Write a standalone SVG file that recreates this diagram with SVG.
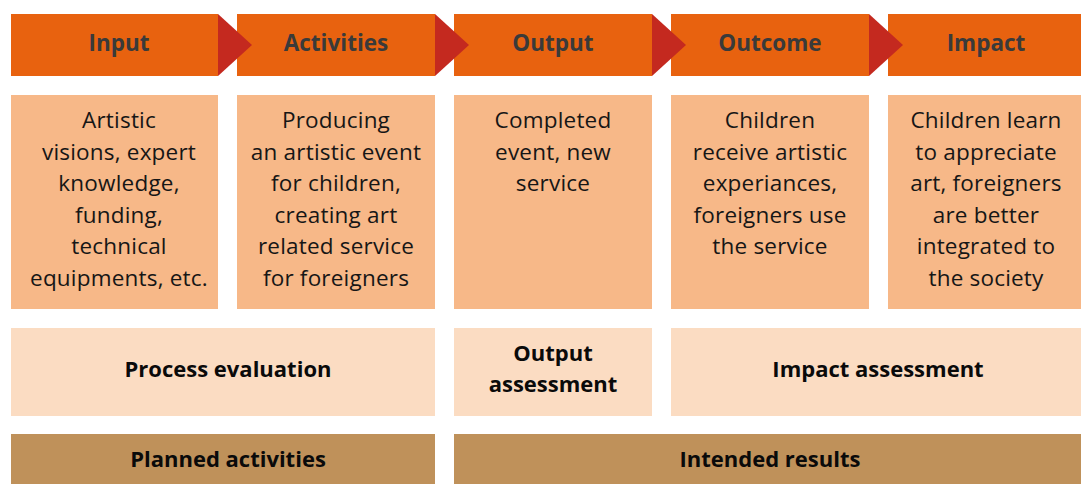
<svg xmlns="http://www.w3.org/2000/svg" width="1081" height="484" viewBox="0 0 1081 484">
<style>
.hd{fill:#e8620f}
.ar{fill:#c4291f}
.bd{fill:#f7b888}
.ev{fill:#fbdcc2}
.bt{fill:#bf915a}
text{font-family:"Open Sans","Liberation Sans",sans-serif;text-anchor:middle}
.ht{font-size:22.5px;font-weight:700;fill:#3a3a3a}
.bx{font-size:22.5px;letter-spacing:0.2px;fill:#161616}
.et{font-size:22px;font-weight:700;fill:#0a0a0a}
</style>
<rect width="1081" height="484" fill="#ffffff"/>
<g id="input">
<rect class="hd" x="11" y="14" width="207" height="62"/>
<text class="ht" x="119" y="51">Input</text>
<rect class="bd" x="11" y="95" width="207" height="214"/>
<text class="bx" x="119" y="128">Artistic</text>
<text class="bx" x="119" y="159.5">visions, expert</text>
<text class="bx" x="119" y="191">knowledge,</text>
<text class="bx" x="119" y="222.5">funding,</text>
<text class="bx" x="119" y="254">technical</text>
<text class="bx" x="119" y="285.5">equipments, etc.</text>
</g>
<g id="activities">
<rect class="hd" x="237" y="14" width="198" height="62"/>
<text class="ht" x="336" y="51">Activities</text>
<rect class="bd" x="237" y="95" width="198" height="214"/>
<text class="bx" x="336" y="128">Producing</text>
<text class="bx" x="336" y="159.5">an artistic event</text>
<text class="bx" x="336" y="191">for children,</text>
<text class="bx" x="336" y="222.5">creating art</text>
<text class="bx" x="336" y="254">related service</text>
<text class="bx" x="336" y="285.5">for foreigners</text>
</g>
<g id="output">
<rect class="hd" x="454" y="14" width="198" height="62"/>
<text class="ht" x="553" y="51">Output</text>
<rect class="bd" x="454" y="95" width="198" height="214"/>
<text class="bx" x="553" y="128">Completed</text>
<text class="bx" x="553" y="159.5">event, new</text>
<text class="bx" x="553" y="191">service</text>
</g>
<g id="outcome">
<rect class="hd" x="671" y="14" width="198" height="62"/>
<text class="ht" x="770" y="51">Outcome</text>
<rect class="bd" x="671" y="95" width="198" height="214"/>
<text class="bx" x="770" y="128">Children</text>
<text class="bx" x="770" y="159.5">receive artistic</text>
<text class="bx" x="770" y="191">experiances,</text>
<text class="bx" x="770" y="222.5">foreigners use</text>
<text class="bx" x="770" y="254">the service</text>
</g>
<g id="impact">
<rect class="hd" x="888" y="14" width="193" height="62"/>
<text class="ht" x="986" y="51">Impact</text>
<rect class="bd" x="888" y="95" width="193" height="214"/>
<text class="bx" x="986" y="128">Children learn</text>
<text class="bx" x="986" y="159.5">to appreciate</text>
<text class="bx" x="986" y="191">art, foreigners</text>
<text class="bx" x="986" y="222.5">are better</text>
<text class="bx" x="986" y="254">integrated to</text>
<text class="bx" x="986" y="285.5">the society</text>
</g>
<g id="connectors">
<polygon class="ar" points="218,14 252,45 218,76"/>
<polygon class="ar" points="435,14 469,45 435,76"/>
<polygon class="ar" points="652,14 686,45 652,76"/>
<polygon class="ar" points="869,14 903,45 869,76"/>
</g>
<g id="process-evaluation">
<rect class="ev" x="11" y="328" width="424" height="88"/>
<text class="et" x="228" y="377">Process evaluation</text>
</g>
<g id="output-assessment">
<rect class="ev" x="454" y="328" width="198" height="88"/>
<text class="et" x="553" y="361">Output</text>
<text class="et" x="553" y="392">assessment</text>
</g>
<g id="impact-assessment">
<rect class="ev" x="671" y="328" width="410" height="88"/>
<text class="et" x="878" y="377">Impact assessment</text>
</g>
<g id="planned-activities">
<rect class="bt" x="11" y="434" width="424" height="50"/>
<text class="et" x="228" y="467">Planned activities</text>
</g>
<g id="intended-results">
<rect class="bt" x="454" y="434" width="627" height="50"/>
<text class="et" x="770" y="467">Intended results</text>
</g>
</svg>
